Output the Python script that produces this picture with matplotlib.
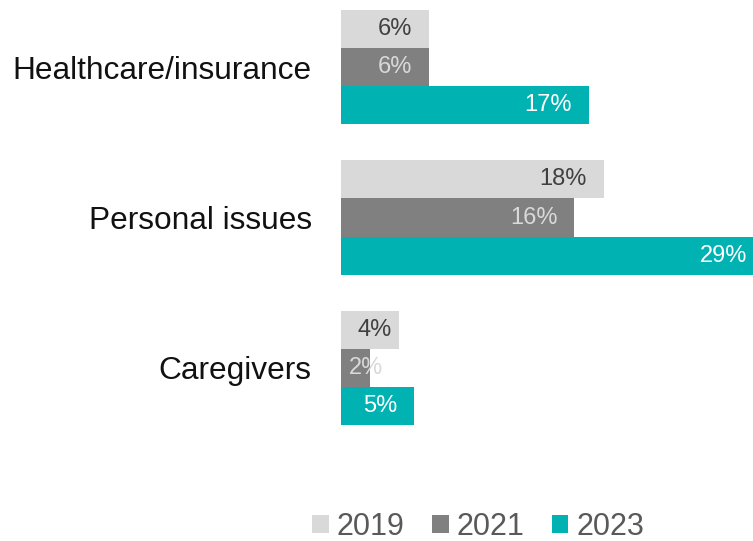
import matplotlib
matplotlib.use("Agg")
import matplotlib.pyplot as plt
import numpy as np

plt.rcParams['font.family'] = ['Liberation Sans', 'DejaVu Sans']

categories = ["Healthcare/insurance", "Personal issues", "Caregivers"]
years = ["2019", "2021", "2023"]
values_2019 = [6, 18, 4]
values_2021 = [6, 16, 2]
values_2023 = [17, 29, 5]

bar_colors = ["#d9d9d9", "#808080", "#00b2b2"]
label_colors = ["#404040", "#d9d9d9", "#ffffff"]

W, H = 753, 541
fig = plt.figure(figsize=(W / 100, H / 100), dpi=100)
# axes runs a bit past the right edge, so the longest bar is cut off
ax = fig.add_axes([341 / W, (H - 425) / H, (764 - 341) / W, 415 / H])

ax.set_xlim(0, 29)
h = 38 / 150
ax.set_ylim(2 + 1.5 * h, -1.5 * h)

y = np.arange(len(categories))
series = [values_2019, values_2021, values_2023]
texts = []
for i, (vals, col, lcol) in enumerate(zip(series, bar_colors, label_colors)):
    pos = y + (i - 1) * h
    ax.barh(pos, vals, height=h, color=col, label=years[i])
    for p, v in zip(pos, vals):
        t = ax.text(v - 1.15, p, f"{v}%", ha="right", va="center",
                    fontsize=17, color=lcol)
        texts.append((t, v))

# short bars: label is centred on the bar but never starts left of the base
fig.canvas.draw()
r = fig.canvas.get_renderer()
to_px = ax.transData.transform
to_data = ax.transData.inverted().transform
x0 = to_px((0, 0))[0]
for t, v in texts:
    bb = t.get_window_extent(r)
    end = to_px((v, 0))[0]
    if end - x0 < bb.width + 30:
        left = max((x0 + end) / 2 - bb.width / 2 + 4, x0 + 8)
        t.set_x(to_data((left, 0))[0])
        t.set_ha("left")

ax.set_yticks(y)
ax.set_yticklabels(categories, fontsize=22.8, color="#111111")
ax.tick_params(axis="y", length=0, pad=21)
ax.set_xticks([])
for s in ax.spines.values():
    s.set_visible(False)

handles, labels = ax.get_legend_handles_labels()
fig.legend(handles, labels, loc="center", bbox_to_anchor=(478 / W, 1 - 527 / H),
           ncol=3, frameon=False, fontsize=22, labelcolor="#595959",
           handlelength=0.55, handleheight=0.55, handletextpad=0.25,
           columnspacing=0.9)

fig.savefig("out.png", dpi=100)
